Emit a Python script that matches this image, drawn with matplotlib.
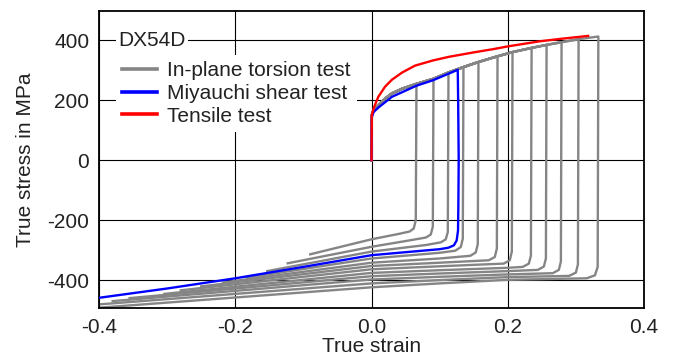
import matplotlib
matplotlib.use("Agg")
import matplotlib.pyplot as plt
import numpy as np
from matplotlib.lines import Line2D

plt.rcParams['font.family'] = ['Liberation Sans', 'DejaVu Sans']
plt.rcParams['font.size'] = 15
plt.rcParams['axes.unicode_minus'] = False

# forward hardening envelope shared by all in-plane torsion tests
torsion_env_strain = [0, 0.0005, 0.003, 0.01, 0.02, 0.03, 0.045, 0.066, 0.091, 0.113,
                      0.135, 0.157, 0.185, 0.207, 0.235, 0.257, 0.279, 0.304, 0.333]
torsion_env_stress = [0, 150, 166, 183, 205, 222, 238, 254, 271, 292,
                      310, 327, 346, 360, 374, 384, 393, 403, 412]

# reverse branches (start at the reversal point of each torsion test)
torsion_rev_strain = [
    [0.066, 0.065, 0.062, 0.056, 0.04, 0.0, -0.090],
    [0.091, 0.090, 0.087, 0.080, 0.06, 0.0, -0.123],
    [0.113, 0.112, 0.109, 0.102, 0.08, 0.0, -0.153],
    [0.135, 0.134, 0.131, 0.123, 0.10, 0.0, -0.183],
    [0.157, 0.156, 0.153, 0.145, 0.10, 0.0, -0.218],
    [0.185, 0.184, 0.181, 0.172, 0.10, 0.0, -0.250],
    [0.207, 0.206, 0.203, 0.194, 0.10, 0.0, -0.280],
    [0.235, 0.234, 0.231, 0.222, 0.20, 0.10, 0.0, -0.304],
    [0.257, 0.256, 0.253, 0.244, 0.20, 0.10, 0.0, -0.355],
    [0.279, 0.278, 0.275, 0.266, 0.20, 0.10, 0.0, -0.380],
    [0.304, 0.303, 0.300, 0.290, 0.20, 0.10, 0.0, -0.400],
    [0.333, 0.332, 0.328, 0.316, 0.20, 0.10, 0.0, -0.400],
]
torsion_rev_stress = [
    [254, -200, -228, -238, -246, -264, -314],
    [271, -222, -248, -258, -266, -289, -344],
    [292, -240, -264, -274, -283, -305, -370],
    [310, -262, -290, -302, -309, -328, -392],
    [327, -280, -308, -319, -328, -342, -408],
    [346, -295, -323, -334, -342, -353, -421],
    [360, -305, -334, -345, -354, -364, -434],
    [374, -318, -345, -356, -359, -367, -376, -446],
    [384, -328, -355, -366, -370, -378, -387, -460],
    [393, -338, -366, -377, -381, -389, -398, -470],
    [403, -348, -375, -386, -390, -400, -411, -481],
    [412, -356, -384, -394, -399, -411, -424, -492],
]

miyauchi_strain = [0, 0.0005, 0.003, 0.01, 0.03, 0.066, 0.09, 0.11, 0.1266,
                   0.1272, 0.128, 0.1275, 0.127, 0.125, 0.121, 0.113, 0.10, 0.05,
                   0.0, -0.1, -0.2, -0.3, -0.4]
miyauchi_stress = [0, 144, 160, 175, 211, 248, 266, 285, 301,
                   200, 0, -150, -235, -268, -284, -292, -297, -307,
                   -317, -356, -394, -428, -459]

tensile_strain = [0, 0.0005, 0.003, 0.01, 0.02, 0.03, 0.045, 0.064, 0.09, 0.113,
                  0.15, 0.179, 0.2, 0.247, 0.277, 0.318]
tensile_stress = [0, 150, 172, 211, 245, 268, 292, 315, 332, 344,
                  359, 370, 379, 396, 404, 414]

gray = '#858585'
blue = '#0000ff'
red = '#ff0000'

fig = plt.figure(figsize=(6.73, 3.55), dpi=100)
ax = fig.add_axes([99 / 673, 1 - 308 / 355, 545 / 673, 297 / 355])

env_x = np.array(torsion_env_strain)
env_y = np.array(torsion_env_stress)
for rx, ry in zip(torsion_rev_strain, torsion_rev_stress):
    keep = env_x < rx[0]
    xs = np.concatenate([env_x[keep], rx])
    ys = np.concatenate([env_y[keep], ry])
    ax.plot(xs, ys, color=gray, lw=1.7, solid_joinstyle='round', zorder=2)

ax.plot(miyauchi_strain, miyauchi_stress, color=blue, lw=1.7, zorder=3)
ax.plot(tensile_strain, tensile_stress, color=red, lw=1.7, zorder=4)

ax.set_xlim(-0.4, 0.4)
ax.set_ylim(-493, 497)
ax.set_xticks([-0.4, -0.2, 0.0, 0.2, 0.4])
ax.set_xticklabels(['-0.4', '-0.2', '0.0', '0.2', '0.4'])
ax.set_yticks([-400, -200, 0, 200, 400])
ax.tick_params(length=0, pad=7, labelcolor='#222222')
ax.grid(True, color='black', lw=0.8)
ax.set_axisbelow(True)
for s in ax.spines.values():
    s.set_linewidth(1.3)

ax.set_xlabel('True strain', color='#222222', labelpad=0)
ax.set_ylabel('True stress in MPa', color='#222222', labelpad=9)

ax.text(-0.372, 400, 'DX54D', ha='left', va='center', color='#222222', zorder=6,
        bbox=dict(facecolor='white', edgecolor='none', pad=1.5))

handles = [Line2D([], [], color=gray, lw=2.6),
           Line2D([], [], color=blue, lw=2.6),
           Line2D([], [], color=red, lw=2.6)]
labels = ['In-plane torsion test', 'Miyauchi shear test', 'Tensile test']
leg = ax.legend(handles, labels, loc='upper left', bbox_to_anchor=(0.031, 0.852),
                borderaxespad=0, frameon=True, fancybox=False, framealpha=1,
                facecolor='white', edgecolor='none', borderpad=0.3,
                handlelength=1.65, handletextpad=0.5, labelspacing=0.18,
                labelcolor='#222222')
leg.set_zorder(5)

fig.savefig('out.png', dpi=100)
